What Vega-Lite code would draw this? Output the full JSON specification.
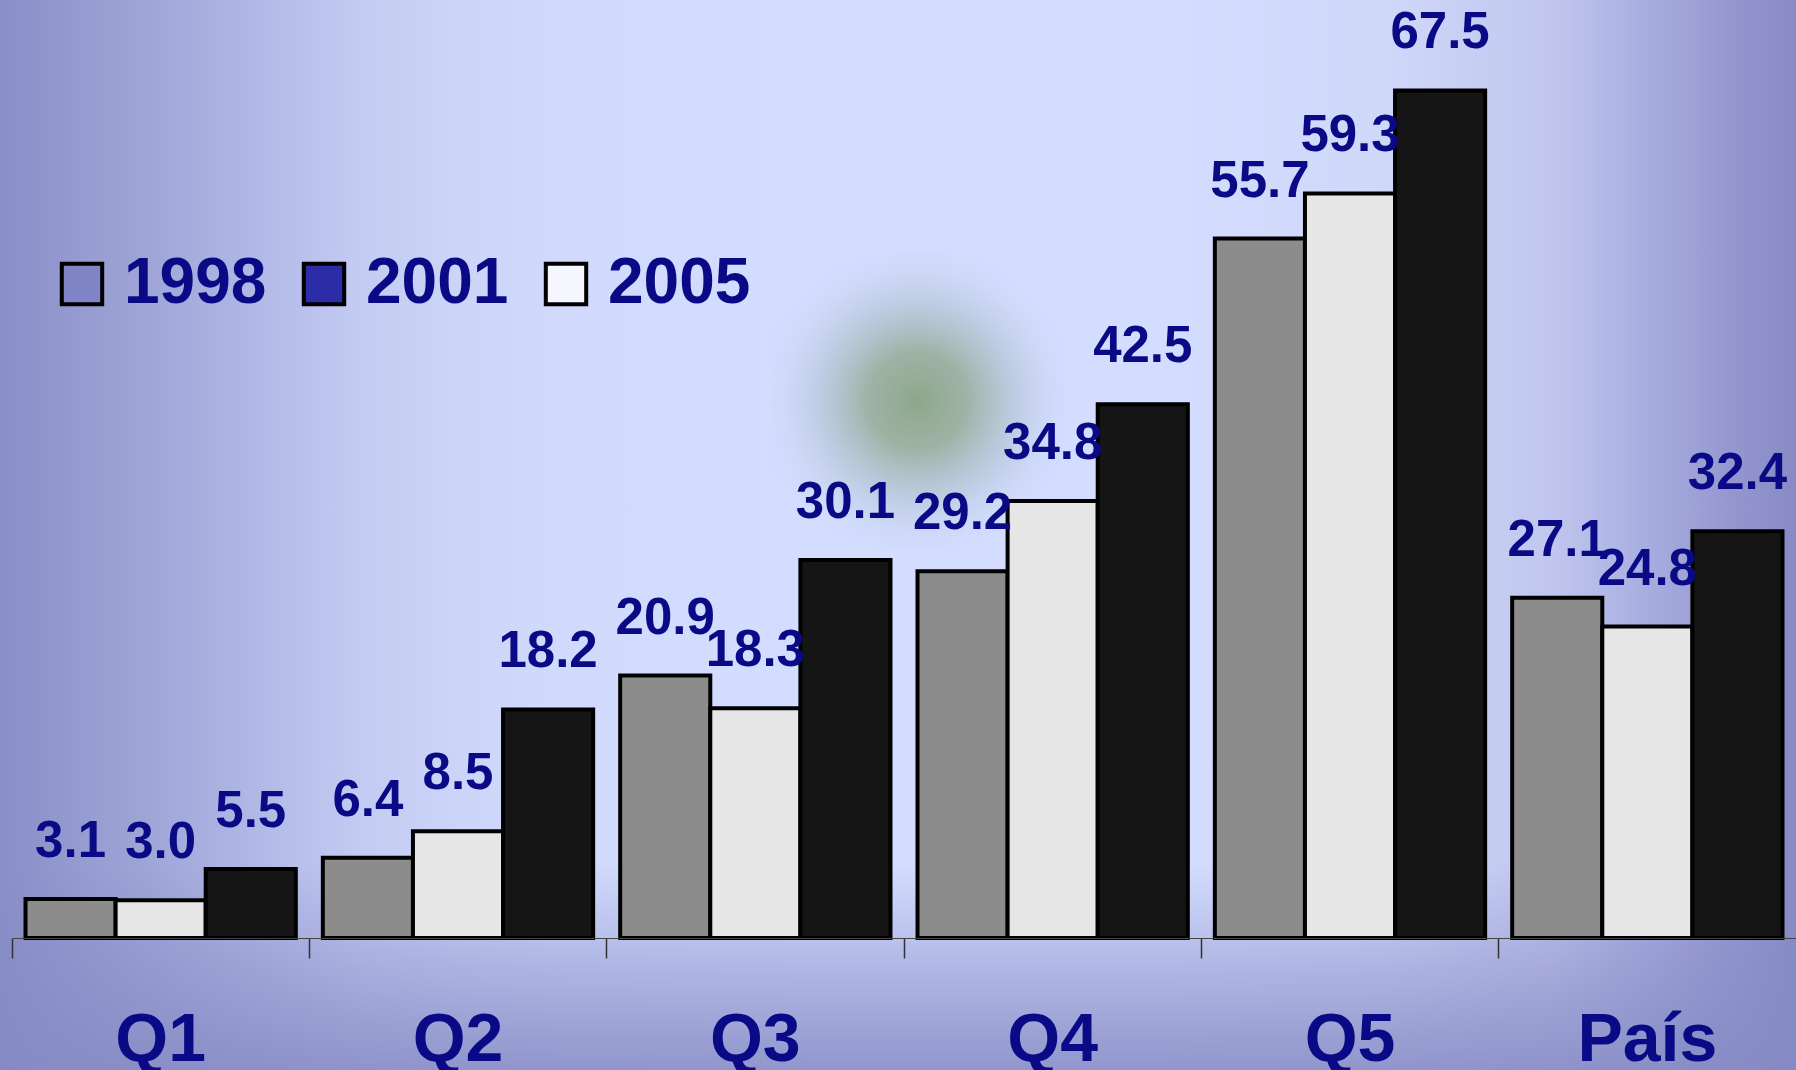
{
  "$schema": "https://vega.github.io/schema/vega-lite/v6.json",
  "autosize": {"type": "none"},
  "width": 1784,
  "height": 938,
  "padding": {"left": 12, "top": 0, "right": 0, "bottom": 132},
  "background": "#8a8ec6",
  "config": {"view": {"stroke": null}, "font": "Liberation Sans"},
  "data": {
    "values": [
      {"cat": "Q1", "year": "1998", "value": 3.1},
      {"cat": "Q1", "year": "2001", "value": 3.0},
      {"cat": "Q1", "year": "2005", "value": 5.5},
      {"cat": "Q2", "year": "1998", "value": 6.4},
      {"cat": "Q2", "year": "2001", "value": 8.5},
      {"cat": "Q2", "year": "2005", "value": 18.2},
      {"cat": "Q3", "year": "1998", "value": 20.9},
      {"cat": "Q3", "year": "2001", "value": 18.3},
      {"cat": "Q3", "year": "2005", "value": 30.1},
      {"cat": "Q4", "year": "1998", "value": 29.2},
      {"cat": "Q4", "year": "2001", "value": 34.8},
      {"cat": "Q4", "year": "2005", "value": 42.5},
      {"cat": "Q5", "year": "1998", "value": 55.7},
      {"cat": "Q5", "year": "2001", "value": 59.3},
      {"cat": "Q5", "year": "2005", "value": 67.5},
      {"cat": "País", "year": "1998", "value": 27.1},
      {"cat": "País", "year": "2001", "value": 24.8},
      {"cat": "País", "year": "2005", "value": 32.4}
    ]
  },
  "layer": [
    {
      "transform": [{"aggregate": [{"op": "count", "as": "n"}]}],
      "mark": {
        "type": "rect",
        "x": {"expr": "-12"},
        "x2": {"expr": "width"},
        "y": {"expr": "-2"},
        "y2": {"expr": "height + 132"},
        "strokeWidth": 0,
        "fill": {
          "gradient": "linear", "x1": 0, "y1": 0, "x2": 1, "y2": 0,
          "stops": [
            {"offset": 0, "color": "#8a8ec8"},
            {"offset": 0.085, "color": "#a0a6d8"},
            {"offset": 0.142, "color": "#b1b8e6"},
            {"offset": 0.2, "color": "#c3cbf2"},
            {"offset": 0.255, "color": "#ccd4f8"},
            {"offset": 0.31, "color": "#d1d9fc"},
            {"offset": 0.45, "color": "#d4ddff"},
            {"offset": 0.65, "color": "#d4ddff"},
            {"offset": 0.77, "color": "#d0d8fa"},
            {"offset": 0.865, "color": "#c0c6ee"},
            {"offset": 0.917, "color": "#a8ade0"},
            {"offset": 0.963, "color": "#9598cf"},
            {"offset": 1, "color": "#878ac4"}
          ]
        }
      },
      "encoding": {}
    },
    {
      "transform": [{"aggregate": [{"op": "count", "as": "n"}]}],
      "mark": {
        "type": "rect",
        "x": {"expr": "-12"},
        "x2": {"expr": "width"},
        "y": {"expr": "height - 75"},
        "y2": {"expr": "height + 132"},
        "strokeWidth": 0,
        "fill": {
          "gradient": "linear", "x1": 0, "y1": 0, "x2": 0, "y2": 1,
          "stops": [
            {"offset": 0, "color": "rgba(134,138,196,0)"},
            {"offset": 0.25, "color": "rgba(134,138,196,0.22)"},
            {"offset": 0.5, "color": "rgba(134,138,196,0.45)"},
            {"offset": 1, "color": "rgba(134,138,196,0.86)"}
          ]
        }
      },
      "encoding": {}
    },
    {
      "transform": [{"aggregate": [{"op": "count", "as": "n"}]}],
      "mark": {
        "type": "point",
        "shape": "square",
        "filled": true,
        "size": 88000,
        "opacity": 1,
        "strokeWidth": 0,
        "x": {"expr": "scale('x', 'Q4') + 0.045 * bandwidth('x')"},
        "y": {"expr": "scale('y', 42.8)"},
        "fill": {
          "gradient": "radial", "x1": 0.5, "y1": 0.5, "r1": 0, "x2": 0.5, "y2": 0.5, "r2": 0.55,
          "stops": [
            {"offset": 0, "color": "rgba(138,164,132,0.95)"},
            {"offset": 0.3, "color": "rgba(145,168,142,0.8)"},
            {"offset": 0.6, "color": "rgba(165,182,190,0.45)"},
            {"offset": 1, "color": "rgba(205,215,250,0)"}
          ]
        }
      },
      "encoding": {}
    },
    {
      "mark": {"type": "bar", "stroke": "black", "strokeWidth": 4},
      "encoding": {
        "x": {
          "field": "cat", "type": "nominal",
          "scale": {"domain": ["Q1", "Q2", "Q3", "Q4", "Q5", "País"], "paddingInner": 0, "paddingOuter": 0},
          "axis": {
            "title": null, "orient": "bottom", "bandPosition": 0,
            "tickSize": 20, "tickColor": "#333333", "tickWidth": 1.5,
            "domainColor": "#444444", "domainWidth": 1,
            "labelFontSize": 68, "labelFontWeight": "bold", "labelColor": "#0a0a86",
            "labelFont": "Liberation Sans", "labelPadding": 48, "labelAngle": 0,
            "grid": false, "zindex": 1
          }
        },
        "xOffset": {
          "field": "year", "type": "nominal",
          "scale": {"paddingOuter": 0.15, "paddingInner": 0}
        },
        "y": {
          "field": "value", "type": "quantitative",
          "scale": {"domain": [0, 74.7], "nice": false, "zero": true},
          "axis": null
        },
        "color": {
          "field": "year", "type": "nominal",
          "scale": {"domain": ["1998", "2001", "2005", "-"], "range": ["#8c8c8c", "#e6e6e6", "#151515", "#ffffff"]},
          "legend": null
        }
      }
    },
    {
      "mark": {"type": "point", "shape": "square", "filled": true, "opacity": 0},
      "encoding": {
        "x": {"field": "cat", "type": "nominal"},
        "xOffset": {"field": "year", "type": "nominal"},
        "y": {"field": "value", "type": "quantitative"},
        "fill": {
          "field": "year", "type": "nominal",
          "scale": {"domain": ["1998", "2001", "2005"], "range": ["#8183c7", "#2c2ca8", "#f6f6ff"]},
          "legend": {
            "title": null, "orient": "none", "legendX": 38, "legendY": 252,
            "direction": "horizontal", "symbolType": "square", "symbolSize": 1632,
            "symbolStrokeWidth": 4, "symbolStrokeColor": "black", "symbolOpacity": 1,
            "labelFontSize": 64, "labelFontWeight": "bold", "labelColor": "#0a0a86",
            "labelFont": "Liberation Sans", "labelOffset": 10, "labelLimit": 400,
            "columnPadding": 25, "zindex": 1
          }
        }
      }
    },
    {
      "mark": {
        "type": "text", "baseline": "alphabetic", "align": "center", "dy": -42,
        "fontSize": 51, "fontWeight": "bold", "fill": "#0a0a86", "font": "Liberation Sans"
      },
      "encoding": {
        "x": {"field": "cat", "type": "nominal"},
        "xOffset": {"field": "year", "type": "nominal"},
        "y": {"field": "value", "type": "quantitative"},
        "text": {"field": "value", "type": "quantitative", "format": ".1f"}
      }
    }
  ]
}
